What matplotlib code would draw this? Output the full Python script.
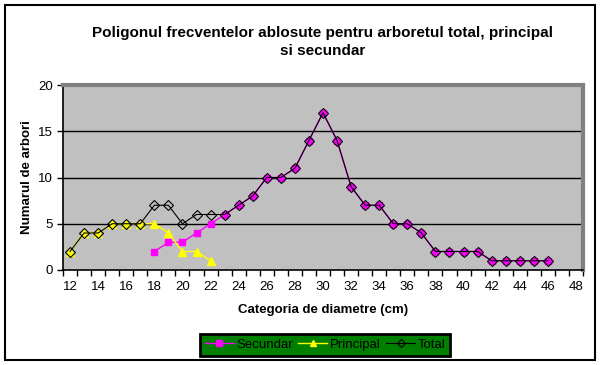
import matplotlib
matplotlib.use("Agg")
import matplotlib.pyplot as plt
from matplotlib.patches import Rectangle

plt.rcParams['font.family'] = ['Liberation Sans', 'DejaVu Sans']

total_x = list(range(12, 47))
total_y = [2, 4, 4, 5, 5, 5, 7, 7, 5, 6, 6, 6, 7, 8, 10, 10, 11, 14, 17, 14, 9, 7, 7, 5, 5, 4,
           2, 2, 2, 2, 1, 1, 1, 1, 1]
principal_x = list(range(12, 23))
principal_y = [2, 4, 4, 5, 5, 5, 5, 4, 2, 2, 1]
secundar_x = list(range(18, 47))
secundar_y = [2, 3, 3, 4, 5, 6, 7, 8, 10, 10, 11, 14, 17, 14, 9, 7, 7, 5, 5, 4,
              2, 2, 2, 2, 1, 1, 1, 1, 1]
x_labels = list(range(12, 49, 2))
y_ticks = [0, 5, 10, 15, 20]

title = "Poligonul frecventelor ablosute pentru arboretul total, principal\nsi secundar"
xlabel = "Categoria de diametre (cm)"
ylabel = "Numarul de arbori"

fig = plt.figure(figsize=(6, 3.65), dpi=100)
fig.patch.set_facecolor('white')
fig.add_artist(Rectangle((5/600, 5/365), 590/600, 355/365, transform=fig.transFigure,
                         fill=False, edgecolor='black', linewidth=1.5))

ax = fig.add_axes([63/600, 95/365, 520/600, 185/365])
ax.set_facecolor('#C0C0C0')

ax.plot(secundar_x, secundar_y, color='#FF00FF', lw=1, marker='s', ms=5,
        mfc='#FF00FF', mec='#FF00FF', zorder=3, label='Secundar')
ax.plot(principal_x, principal_y, color='#FFFF00', lw=1, marker='^', ms=5.5,
        mfc='#FFFF00', mec='#FFFF00', zorder=4, label='Principal')
ax.plot(total_x, total_y, color='black', lw=0.8, marker='D', ms=5,
        mfc='none', mec='black', mew=0.8, zorder=5, label='Total')

ax.set_xlim(11.5, 48.5)
ax.set_ylim(0, 20)
ax.set_yticks(y_ticks)
for v in y_ticks[1:]:
    ax.axhline(v, color='black', lw=1, zorder=1)

ax.set_xticks(x_labels)
ax.set_xticklabels([str(v) for v in x_labels])
ax.set_xticks([v + 0.5 for v in range(11, 49)], minor=True)
ax.tick_params(axis='x', which='major', length=0, pad=8, labelsize=9.5)
ax.tick_params(axis='x', which='minor', length=4, direction='out', width=1)
ax.tick_params(axis='y', which='major', length=4, direction='out', width=1, labelsize=9.5, pad=3)

for s in ['left', 'bottom']:
    ax.spines[s].set_color('black')
    ax.spines[s].set_linewidth(1.2)
for s in ['top', 'right']:
    ax.spines[s].set_color('#808080')
    ax.spines[s].set_linewidth(3)

ax.set_xlabel(xlabel, fontsize=9.5, fontweight='bold', labelpad=8)
ax.set_ylabel(ylabel, fontsize=9.5, fontweight='bold', labelpad=4)

fig.text(0.537, 0.885, title, ha='center', va='center', fontsize=11,
         fontweight='bold', linespacing=1.35)

leg = fig.legend(loc='center', bbox_to_anchor=(0.542, 0.055), ncol=3, fontsize=9.5,
                 frameon=True, fancybox=False, facecolor='#008000', edgecolor='black',
                 framealpha=1, handlelength=2.2, handletextpad=0.2, columnspacing=0.4,
                 borderpad=0.35, markerscale=0.8)
leg.get_frame().set_linewidth(2)

fig.savefig('out.png', dpi=100, facecolor='white')
